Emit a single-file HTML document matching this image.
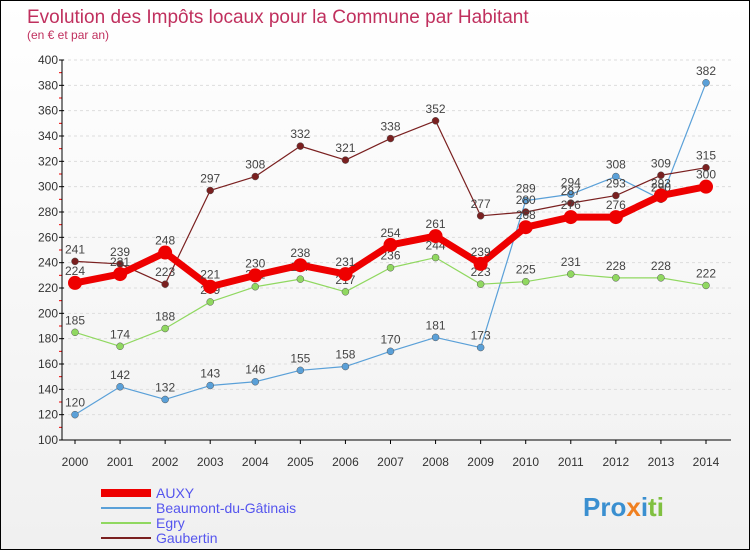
<!DOCTYPE html>
<html><head><meta charset="utf-8"><style>
body{margin:0;width:750px;height:550px;overflow:hidden;font-family:"Liberation Sans",sans-serif}
#wrap{position:relative;width:748px;height:548px;border:1px solid #000;background:linear-gradient(#fff,#f0f0f0)}
</style></head><body>
<div id="wrap">
<svg id="chart" width="748" height="548"></svg>
</div>
<script>
const years=["2000","2001","2002","2003","2004","2005","2006","2007","2008","2009","2010","2011","2012","2013","2014"];
const auxy=[224,231,248,221,230,238,231,254,261,239,268,276,276,293,300];
const beaumont=[120,142,132,143,146,155,158,170,181,173,289,294,308,290,382];
const egry=[185,174,188,209,221,227,217,236,244,223,225,231,228,228,222];
const gaubertin=[241,239,223,297,308,332,321,338,352,277,280,287,293,309,315];
const yTicks=[100,120,140,160,180,200,220,240,260,280,300,320,340,360,380,400];
const NS="http://www.w3.org/2000/svg";
const svg=document.getElementById('chart');
function X(i){return 74+i*(705-74)/(years.length-1);}
function Y(v){return 439-(v-100)*(380/300);}
function el(t,a,p){const e=document.createElementNS(NS,t);for(const k in a)e.setAttribute(k,a[k]);(p||svg).appendChild(e);return e;}
function txt(s,a){const t=el('text',a);t.textContent=s;return t;}
let t=txt("Evolution des Impôts locaux pour la Commune par Habitant",{x:26,y:22,fill:"#c0305e","font-size":19});

t=txt("(en € et par an)",{x:26,y:38,fill:"#c0305e","font-size":12});

yTicks.forEach(v=>{
 const g=el('line',{x1:61,x2:730,y1:Y(v),y2:Y(v),stroke:"#ddd","stroke-dasharray":"3,3"});
 
 el('line',{x1:58,x2:63,y1:Y(v),y2:Y(v),stroke:"#000"});
 if(v<400)el('line',{x1:58,x2:61,y1:Y(v+10),y2:Y(v+10),stroke:"#e00"});
 const l=txt(v,{x:57,y:Y(v)+4,"text-anchor":"end","font-size":12,fill:"#333"});
 
});
let ax=el('line',{x1:61,x2:61,y1:Y(400),y2:Y(100),stroke:"#000"});

ax=el('line',{x1:61,x2:730,y1:Y(100),y2:Y(100),stroke:"#000"});

years.forEach((y,i)=>{
 el('line',{x1:X(i),x2:X(i),y1:Y(100),y2:Y(100)+4,stroke:"#000"});
 const l=txt(y,{x:X(i),y:465,"text-anchor":"middle","font-size":12,fill:"#333"});
 
});
function series(name,data,color,w,r,labelColor){
 const g=el('g',{});
 
 const p=el('polyline',{points:data.map((v,i)=>X(i)+","+Y(v)).join(" "),fill:"none",stroke:color,"stroke-width":w,"stroke-linejoin":"round"},g);
 data.forEach((v,i)=>{
  const c=el('circle',{cx:X(i),cy:Y(v),r:r,fill:color,stroke:w>3?"none":"#555","stroke-width":0.5},g);
  
  const l=txt(v,{x:X(i),y:Y(v)-8,"text-anchor":"middle","font-size":12,fill:"#444"});
  
 });
}
series('beaumont',beaumont,"#5aa0d8",1.2,3.5);
series('egry',egry,"#90d860",1.2,3.5);
series('gaubertin',gaubertin,"#7a2020",1.2,3.5);
series('auxy',auxy,"#ee0000",7,7);
const leg=[["AUXY","#ee0000",8],["Beaumont-du-Gâtinais","#5aa0d8",2],["Egry","#90d860",2],["Gaubertin","#7a2020",2]];
leg.forEach((d,i)=>{
 const y=492+i*15;
 el('line',{x1:100,x2:150,y1:y,y2:y,stroke:d[1],"stroke-width":d[2]});
 const l=txt(d[0],{x:155,y:y+5,"font-size":14,fill:"#5555ee"});
 
});
const pr=txt("",{x:582,y:515,"font-size":26,"font-weight":"bold"});

[["Pro","#3a8fd0"],["x","#f08020"],["i","#3a8fd0"],["ti","#80c040"]].forEach(s=>{const ts=el('tspan',{fill:s[1]},pr);ts.textContent=s[0];});
</script>
</body></html>
